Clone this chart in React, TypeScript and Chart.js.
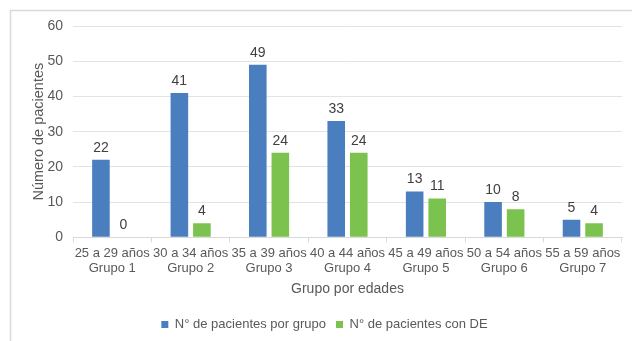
import React, { useEffect, useRef } from "react";
import { Chart, registerables } from "chart.js";

Chart.register(...registerables);

const rangos = ["25 a 29 años", "30 a 34 años", "35 a 39 años", "40 a 44 años", "45 a 49 años", "50 a 54 años", "55 a 59 años"];
const grupos = ["Grupo 1", "Grupo 2", "Grupo 3", "Grupo 4", "Grupo 5", "Grupo 6", "Grupo 7"];
const pacientesPorGrupo = [22, 41, 49, 33, 13, 10, 5];
const pacientesConDE = [0, 4, 24, 24, 11, 8, 4];
const serieNombres = ["N° de pacientes por grupo", "N° de pacientes con DE"];

const FONT = "'Liberation Sans', Arial, sans-serif";
const TEXT = "#595959";

const framePlugin = {
  id: "frame",
  beforeDraw(chart: any) {
    const ctx = chart.ctx;
    ctx.save();
    ctx.fillStyle = "#ffffff";
    ctx.fillRect(0, 0, chart.width, chart.height);
    ctx.strokeStyle = "#d9d9d9";
    ctx.lineWidth = 1.5;
    ctx.beginPath();
    ctx.moveTo(10.5, chart.height);
    ctx.lineTo(10.5, 10.5);
    ctx.lineTo(chart.width, 10.5);
    ctx.stroke();
    ctx.restore();
  },
};

const labelsPlugin = {
  id: "valueLabels",
  afterDatasetsDraw(chart: any) {
    const ctx = chart.ctx;
    ctx.save();
    ctx.font = `14px ${FONT}`;
    ctx.fillStyle = "#404040";
    ctx.textAlign = "center";
    ctx.textBaseline = "bottom";
    chart.data.datasets.forEach((ds: any, i: number) => {
      const meta = chart.getDatasetMeta(i);
      meta.data.forEach((bar: any, j: number) => {
        ctx.fillText(String(ds.data[j]), bar.x, bar.y - 5);
      });
    });
    ctx.restore();
  },
};

export default function App() {
  const ref = useRef<HTMLCanvasElement | null>(null);
  useEffect(() => {
    document.body.style.margin = "0";
    const chart = new Chart(ref.current!, {
      type: "bar",
      data: {
        labels: rangos.map((r, i) => [r, grupos[i]]),
        datasets: [
          {
            label: serieNombres[0],
            data: pacientesPorGrupo,
            backgroundColor: "#4a7ebf",
            categoryPercentage: 0.575,
            barPercentage: 0.78,
          },
          {
            label: serieNombres[1],
            data: pacientesConDE,
            backgroundColor: "#7cc24e",
            categoryPercentage: 0.575,
            barPercentage: 0.78,
          },
        ],
      },
      options: {
        animation: false,
        responsive: false,
        maintainAspectRatio: false,
        layout: { padding: { top: 26, right: 10, left: 27, bottom: 0 } },
        plugins: {
          legend: {
            position: "bottom",
            labels: {
              boxWidth: 7,
              boxHeight: 7,
              padding: 10,
              color: TEXT,
              font: { family: FONT, size: 13 },
            },
          },
          tooltip: { enabled: false },
        },
        scales: {
          x: {
            grid: { display: true, drawOnChartArea: false, drawTicks: true, tickLength: 5, color: "#d9d9d9", offset: true },
            border: { display: true, color: "#d9d9d9" },
            ticks: { color: TEXT, font: { family: FONT, size: 13, lineHeight: 1.15 }, padding: 4, maxRotation: 0, autoSkip: false },
            title: { display: true, text: "Grupo por edades", color: TEXT, font: { family: FONT, size: 14 }, padding: { top: 1, bottom: 10 } },
          },
          y: {
            min: 0,
            max: 60,
            ticks: { stepSize: 10, color: TEXT, font: { family: FONT, size: 14 }, padding: 10 },
            grid: { color: "#e3e3e3", drawTicks: false },
            border: { display: false },
            title: { display: true, text: "Número de pacientes", color: TEXT, font: { family: FONT, size: 14.5 }, padding: { top: 3, bottom: 4 } },
            afterFit(scale: any) {
              scale.width = 46;
            },
          },
        },
      },
      plugins: [framePlugin, labelsPlugin],
    } as any);
    return () => chart.destroy();
  }, []);
  return (
    <div style={{ width: 632, height: 341 }}>
      <canvas ref={ref} width={632} height={341} style={{ display: "block" }} />
    </div>
  );
}
